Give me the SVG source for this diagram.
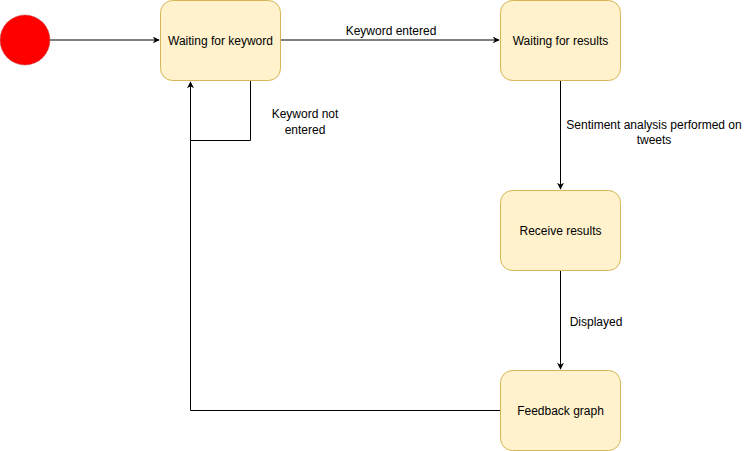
<svg xmlns="http://www.w3.org/2000/svg" width="751" height="451" viewBox="0 0 751 451">
<defs>
<style>
.box{fill:#fff2cc;stroke:#d6b656;stroke-width:1}
.lbl{font-family:"Liberation Sans",Arial,sans-serif;font-size:12px;fill:#000;text-anchor:middle}
.edge{fill:none;stroke:#000;stroke-width:1}
</style>
<marker id="arr" viewBox="0 0 10 10" refX="9" refY="5" markerWidth="7" markerHeight="7" markerUnits="userSpaceOnUse" orient="auto">
<path d="M0,0 L10,5 L0,10 L3,5 Z" fill="#000"/>
</marker>
</defs>
<g id="connectors">
<path class="edge" d="M50,40 L159,40" marker-end="url(#arr)"/>
<path class="edge" d="M280.5,40 L499,40" marker-end="url(#arr)"/>
<text class="lbl" x="391" y="35">Keyword entered</text>
<path class="edge" d="M250.5,80.5 L250.5,140.5 L190.5,140.5 L190.5,82" marker-end="url(#arr)"/>
<text class="lbl" x="305" y="118">Keyword not</text>
<text class="lbl" x="305" y="134">entered</text>
<path class="edge" d="M560.5,80.5 L560.5,189" marker-end="url(#arr)"/>
<text class="lbl" x="654" y="129">Sentiment analysis performed on</text>
<text class="lbl" x="654" y="144">tweets</text>
<path class="edge" d="M560.5,270.5 L560.5,369" marker-end="url(#arr)"/>
<text class="lbl" x="596" y="326">Displayed</text>
<path class="edge" d="M500.5,410.5 L190.5,410.5 L190.5,140.5"/>
</g>
<g id="start">
<circle cx="25" cy="40" r="25" fill="#ff0000" stroke="#b85450" stroke-width="0.5"/>
</g>
<g id="waiting-keyword">
<rect class="box" x="160.5" y="0.5" width="120" height="80" rx="12"/>
<text class="lbl" x="220.5" y="45">Waiting for keyword</text>
</g>
<g id="waiting-results">
<rect class="box" x="500.5" y="0.5" width="120" height="80" rx="12"/>
<text class="lbl" x="560.5" y="45">Waiting for results</text>
</g>
<g id="receive-results">
<rect class="box" x="500.5" y="190.5" width="120" height="80" rx="12"/>
<text class="lbl" x="560.5" y="235">Receive results</text>
</g>
<g id="feedback-graph">
<rect class="box" x="500.5" y="370.5" width="120" height="80" rx="12"/>
<text class="lbl" x="560.5" y="415">Feedback graph</text>
</g>
</svg>
